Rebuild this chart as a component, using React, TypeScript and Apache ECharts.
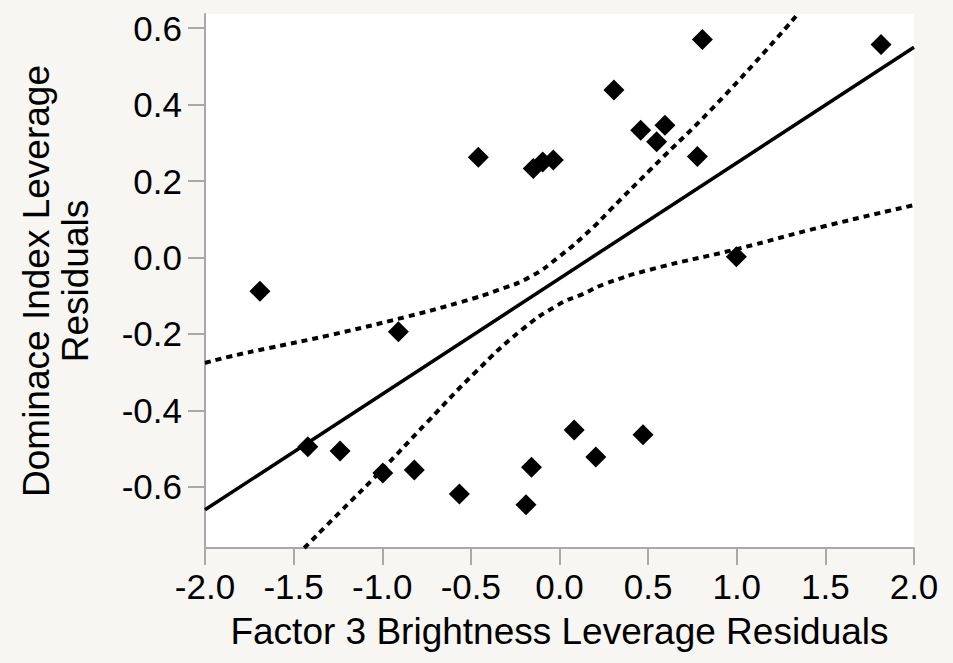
import React, { useEffect, useRef } from "react";
import * as echarts from "echarts";

// Scatter points
const pointX = [-1.69, -1.42, -1.238, -0.997, -0.819, -0.909, -0.565, -0.458, -0.189, -0.158, -0.148, -0.095, -0.035, 0.083, 0.205, 0.307, 0.458, 0.471, 0.548, 0.595, 0.778, 0.806, 0.998, 1.814];
const pointY = [-0.088, -0.495, -0.506, -0.564, -0.556, -0.194, -0.619, 0.262, -0.647, -0.549, 0.233, 0.25, 0.255, -0.451, -0.522, 0.438, 0.333, -0.464, 0.303, 0.346, 0.264, 0.57, 0.002, 0.557];

// Fitted line
const fitX = [-2, 2];
const fitY = [-0.66, 0.55];

// Confidence curves
const upperX = [-2.0, -1.859, -1.64, -1.295, -0.863, -0.552, -0.345, -0.163, 0.0, 0.174, 0.285, 0.511, 0.924, 1.345];
const upperY = [-0.276, -0.259, -0.237, -0.203, -0.155, -0.116, -0.085, -0.05, 0.003, 0.072, 0.124, 0.229, 0.42, 0.637];
const lowerX = [-1.44, -1.23, -1.013, -0.749, -0.474, -0.215, -0.008, 0.134, 0.251, 0.51, 1.0, 1.488, 2.0];
const lowerY = [-0.76, -0.662, -0.561, -0.432, -0.3, -0.19, -0.124, -0.095, -0.07, -0.032, 0.022, 0.081, 0.137];

// Axes
const xMin = -2;
const xMax = 2;
const xStep = 0.5;
const yMin = -0.76;
const yMax = 0.637;
const yTicks = [-0.6, -0.4, -0.2, 0, 0.2, 0.4, 0.6];
const xTitle = "Factor 3 Brightness Leverage Residuals";
const yTitle = "Dominace Index Leverage\nResiduals";

const zip = (xs: number[], ys: number[]) => xs.map((x, i) => [x, ys[i]]);

export default function App() {
  const ref = useRef<HTMLDivElement>(null);
  useEffect(() => {
    if (!ref.current) return;
    const chart = echarts.init(ref.current, null, { renderer: "svg" });
    const font = "'Liberation Sans', Arial, Helvetica, sans-serif";
    const gray = "#a9a9a9";
    const ink = "#000000";
    chart.setOption({
      animation: false,
      backgroundColor: "#f7f6f2",
      grid: {
        left: 205,
        right: 39,
        top: 14,
        bottom: 115,
        show: true,
        backgroundColor: "#ffffff",
        borderWidth: 0,
      },
      xAxis: {
        type: "value",
        min: xMin,
        max: xMax,
        interval: xStep,
        name: xTitle,
        nameLocation: "middle",
        nameGap: 65,
        nameTextStyle: { fontSize: 37, color: ink, fontFamily: font },
        axisLine: { show: true, onZero: false, lineStyle: { color: gray, width: 2 } },
        axisTick: { show: true, length: 17, lineStyle: { color: gray, width: 2 } },
        axisLabel: {
          fontSize: 35,
          color: ink,
          fontFamily: font,
          margin: 21,
          formatter: (v: number) => v.toFixed(1),
        },
        splitLine: { show: false },
      },
      yAxis: {
        type: "value",
        min: yMin,
        max: yMax,
        name: yTitle,
        nameLocation: "middle",
        nameRotate: 90,
        nameGap: 110,
        nameTextStyle: { fontSize: 37, lineHeight: 39, color: ink, fontFamily: font, align: "center" },
        axisLine: { show: true, onZero: false, lineStyle: { color: gray, width: 2 } },
        axisTick: { show: true, length: 17, customValues: yTicks, lineStyle: { color: gray, width: 2 } },
        axisLabel: {
          fontSize: 35,
          color: ink,
          fontFamily: font,
          margin: 23,
          customValues: yTicks,
          formatter: (v: number) => v.toFixed(1),
        },
        splitLine: { show: false },
      },
      series: [
        {
          type: "line",
          data: zip(upperX, upperY),
          smooth: true,
          showSymbol: false,
          lineStyle: { color: "#000", width: 4, type: [6, 5] },
          z: 2,
        },
        {
          type: "line",
          data: zip(lowerX, lowerY),
          smooth: true,
          showSymbol: false,
          lineStyle: { color: "#000", width: 4, type: [6, 5] },
          z: 2,
        },
        {
          type: "line",
          data: zip(fitX, fitY),
          showSymbol: false,
          lineStyle: { color: "#000", width: 3.5, type: "solid" },
          z: 3,
        },
        {
          type: "scatter",
          data: zip(pointX, pointY),
          symbol: "diamond",
          symbolSize: 21,
          itemStyle: { color: "#000", opacity: 1 },
          z: 4,
        },
      ],
    });
    return () => chart.dispose();
  }, []);
  return (
    <div
      ref={ref}
      style={{ position: "fixed", left: 0, top: 0, width: 953, height: 663 }}
    />
  );
}
